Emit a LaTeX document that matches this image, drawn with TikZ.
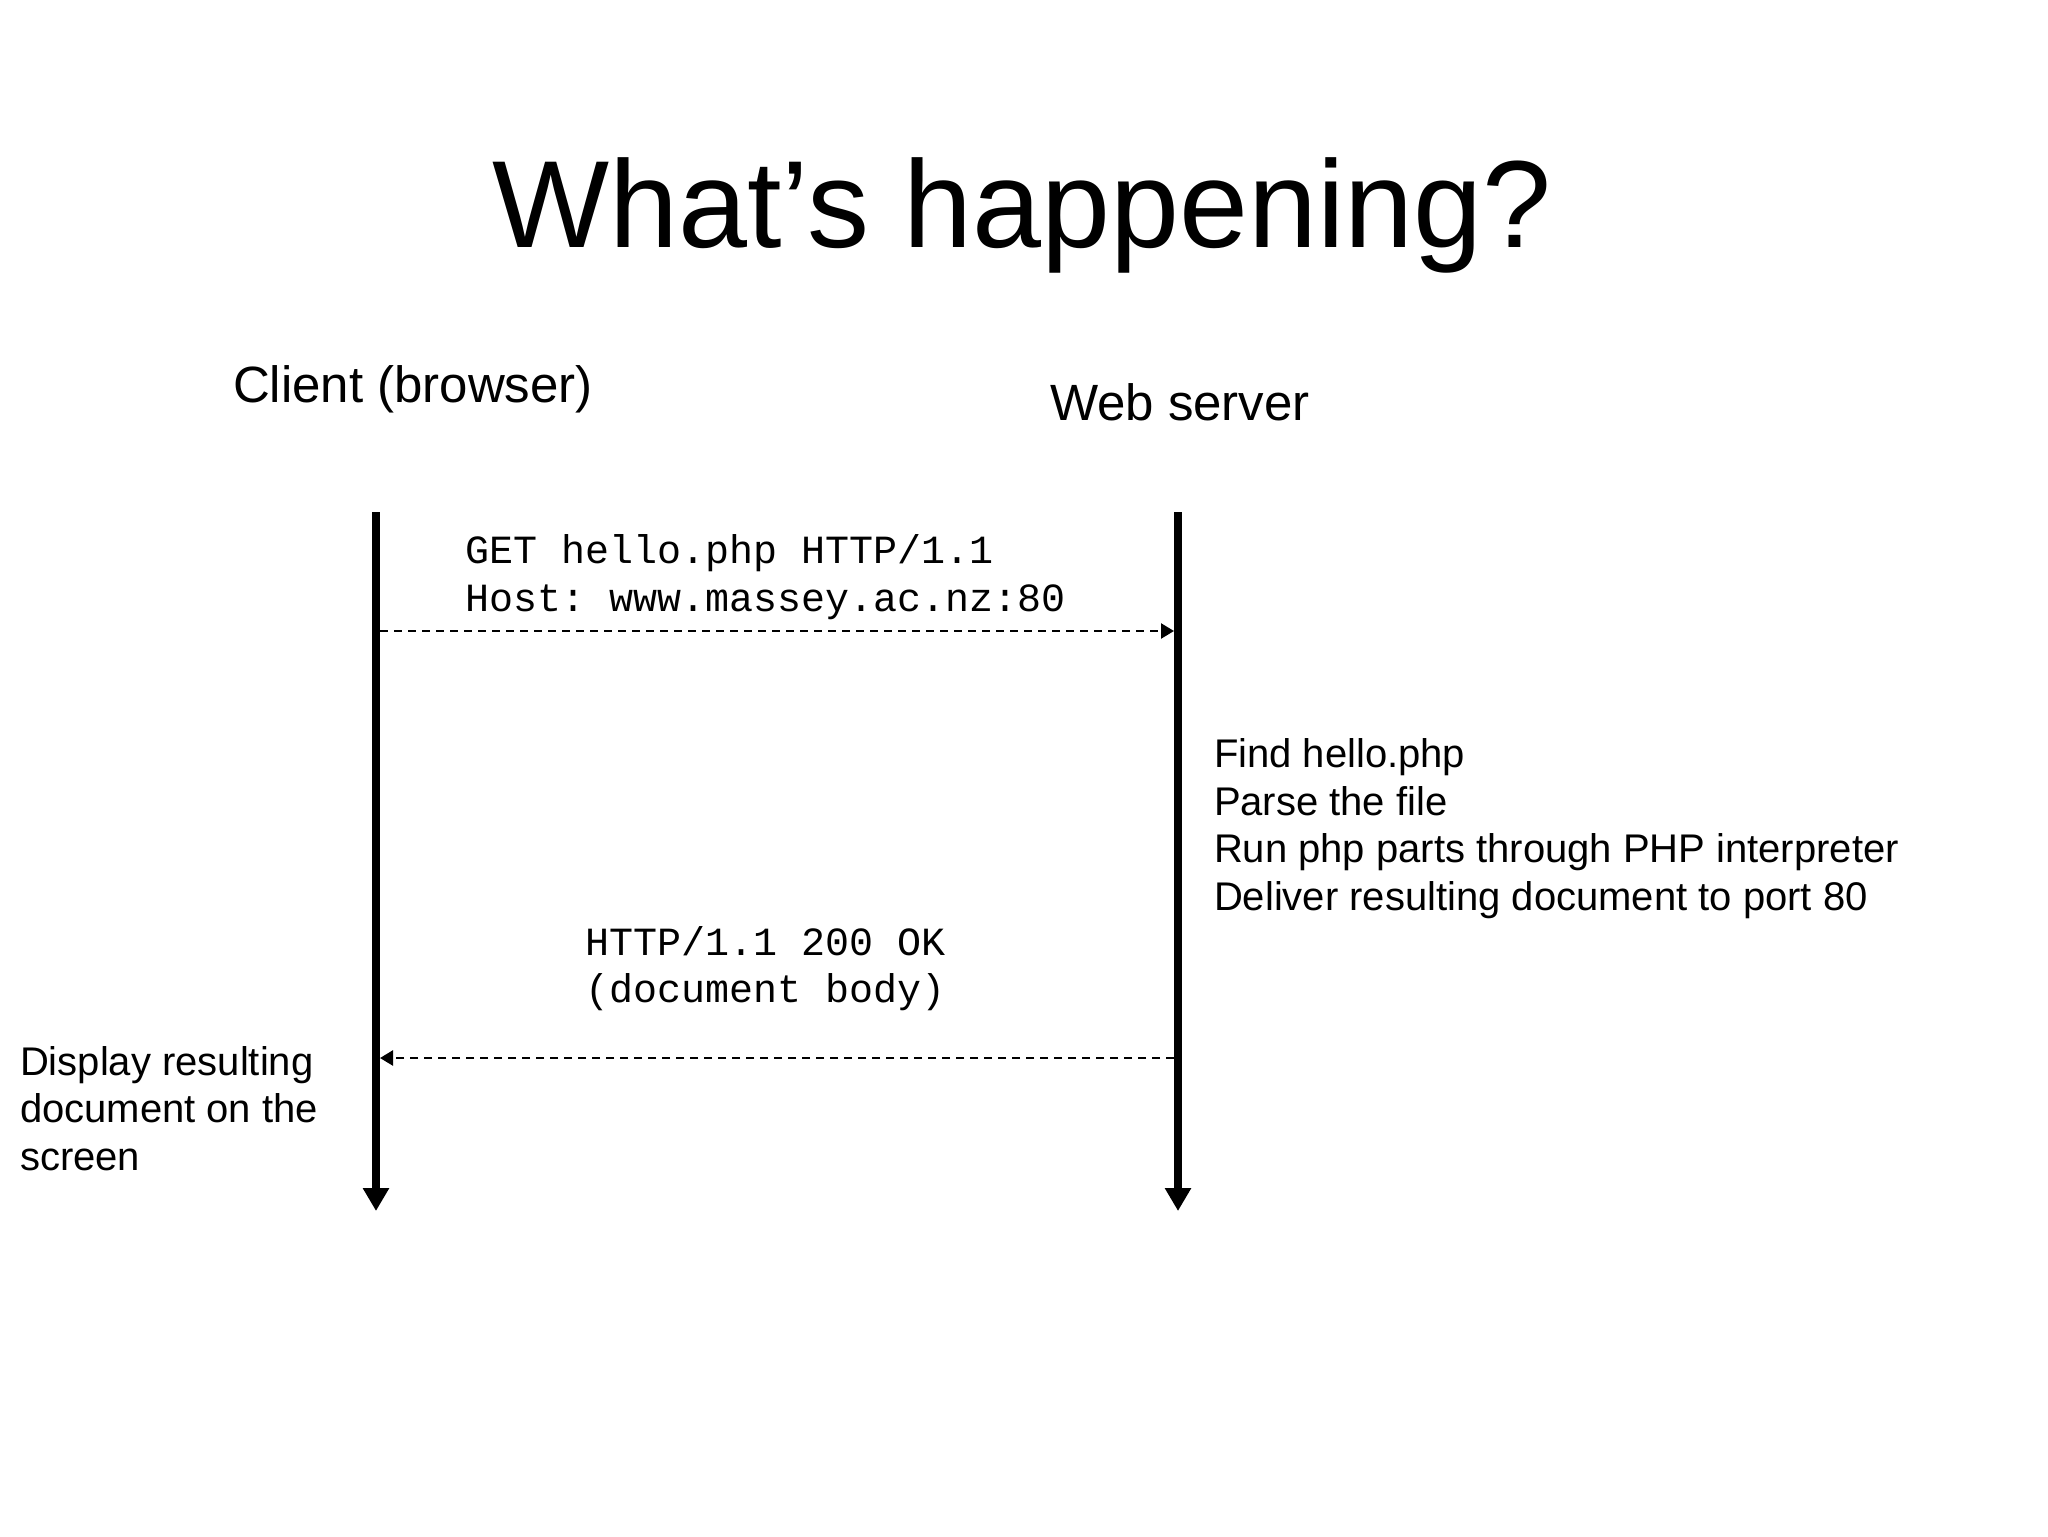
\documentclass[tikz,border=0pt]{standalone}
\usepackage{fontspec}
\setmainfont{Liberation Sans}
\setmonofont{Liberation Mono}
\usetikzlibrary{arrows.meta}
\begin{document}
\begin{tikzpicture}[x=0.5pt,y=-0.5pt,
  txt/.style={inner sep=0pt,outer sep=0pt,anchor=base west},
  body/.style={txt,font=\fontsize{20pt}{24pt}\selectfont},
  code/.style={txt,font=\ttfamily\fontsize{20pt}{24pt}\selectfont},
  head/.style={txt,font=\fontsize{25.5pt}{30pt}\selectfont},
  lifeline/.style={line width=4pt,-{Triangle[width=12.5pt,length=11.5pt]}},
  msg/.style={line width=1.2pt,dash pattern=on 4pt off 3pt,-{Triangle[width=7.5pt,length=6.5pt]}}]
\useasboundingbox[fill=white] (0,0) rectangle (2048,1536);

% title
\node[inner sep=0pt,anchor=base,font=\fontsize{62pt}{74pt}\selectfont] (title) at (1022,247) {What’s happening?};

% headers
\node[head] (client) at (233,402) {Client (browser)};
\node[head] (server) at (1050,420) {Web server};

% lifelines
\coordinate (cTop) at (376,512);
\coordinate (cBot) at (376,1211);
\coordinate (sTop) at (1178,512);
\coordinate (sBot) at (1178,1211);
\draw[lifeline] (cTop) -- (cBot);
\draw[lifeline] (sTop) -- (sBot);

% request
\coordinate (reqA) at (380,631);
\coordinate (reqB) at (1174,631);
\draw[msg] (reqA) -- (reqB);
\node[code] (get) at (465,563) {GET hello.php HTTP/1.1};
\node[code] (host) at (465,611) {Host: www.massey.ac.nz:80};

% server processing
\node[body] (s1) at (1214,767) {Find hello.php};
\node[body] (s2) at (1214,815) {Parse the file};
\node[body] (s3) at (1214,862) {Run php parts through PHP interpreter};
\node[body] (s4) at (1214,910) {Deliver resulting document to port 80};

% response
\coordinate (resA) at (1174,1058);
\coordinate (resB) at (380,1058);
\draw[msg] (resA) -- (resB);
\node[code] (ok) at (585,955) {HTTP/1.1 200 OK};
\node[code] (docbody) at (585,1002) {(document body)};

% client display
\node[body] (d1) at (20,1075) {Display resulting};
\node[body] (d2) at (20,1122) {document on the};
\node[body] (d3) at (20,1170) {screen};
\end{tikzpicture}
\end{document}
